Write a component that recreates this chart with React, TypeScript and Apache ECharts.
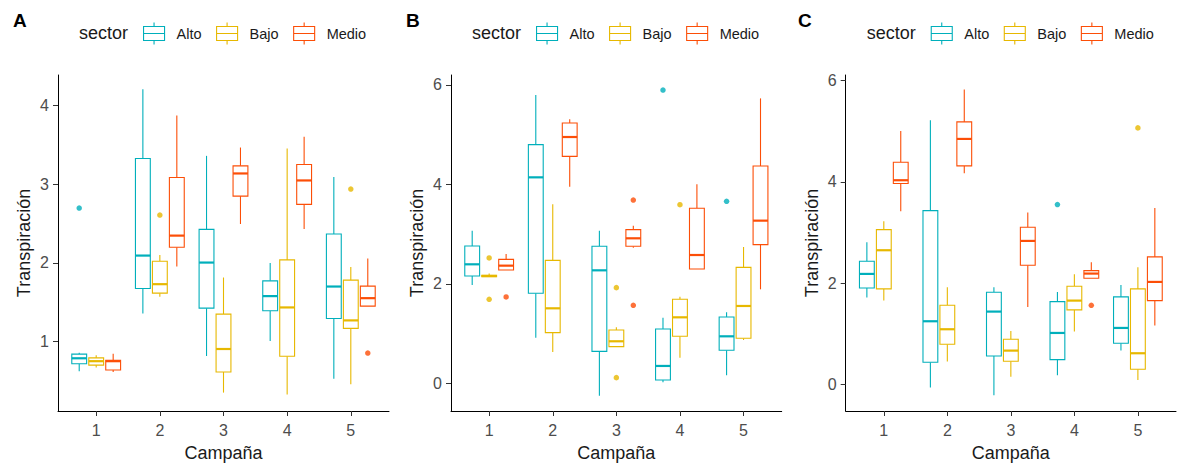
import React, { useEffect, useRef } from "react";
import * as echarts from "echarts";

const campaigns = [1, 2, 3, 4, 5];
const sectors = ["Alto", "Bajo", "Medio"];
const colors = ["#00AFBB", "#E7B800", "#FC4E07"];
const panelLetters = ["A", "B", "C"];

// Each row: [min, Q1, median, Q3, max] for campaigns 1..5
const A_Alto = [
  [0.62, 0.715, 0.785, 0.838, 0.856],
  [1.355, 1.673, 2.092, 3.328, 4.208],
  [0.814, 1.423, 2.003, 2.426, 3.361],
  [1.004, 1.389, 1.576, 1.77, 1.999],
  [0.526, 1.292, 1.698, 2.367, 3.091],
];
const A_Bajo = [
  [0.666, 0.698, 0.748, 0.79, 0.822],
  [1.567, 1.614, 1.728, 2.02, 2.1],
  [0.348, 0.611, 0.903, 1.347, 1.813],
  [0.323, 0.81, 1.432, 2.037, 3.455],
  [0.454, 1.165, 1.267, 1.779, 1.948],
];
const A_Medio = [
  [0.61, 0.636, 0.748, 0.759, 0.842],
  [1.952, 2.198, 2.346, 3.086, 3.873],
  [2.494, 2.849, 3.137, 3.234, 3.467],
  [2.43, 2.744, 3.048, 3.251, 3.603],
  [1.449, 1.449, 1.55, 1.703, 2.054],
];
const B_Alto = [
  [1.977, 2.158, 2.393, 2.761, 3.07],
  [0.918, 1.81, 4.142, 4.799, 5.798],
  [-0.248, 0.643, 2.272, 2.755, 3.07],
  [0.02, 0.067, 0.349, 1.093, 1.32],
  [0.161, 0.664, 0.945, 1.334, 1.428],
];
const B_Bajo = [
  [2.14, 2.145, 2.158, 2.17, 2.21],
  [0.63, 1.019, 1.508, 2.473, 3.599],
  [0.737, 0.737, 0.845, 1.072, 1.126],
  [0.516, 0.945, 1.327, 1.689, 1.743],
  [0.871, 0.905, 1.555, 2.332, 2.741],
];
const B_Medio = [
  [2.279, 2.279, 2.366, 2.493, 2.6],
  [3.954, 4.564, 4.953, 5.234, 5.308],
  [2.728, 2.755, 2.916, 3.09, 3.17],
  [2.299, 2.299, 2.58, 3.519, 4.001],
  [1.89, 2.788, 3.271, 4.37, 5.73],
];
const C_Alto = [
  [1.712, 1.903, 2.18, 2.43, 2.806],
  [-0.066, 0.435, 1.245, 3.431, 5.216],
  [-0.217, 0.56, 1.436, 1.818, 1.917],
  [0.178, 0.487, 1.014, 1.633, 1.824],
  [0.665, 0.81, 1.113, 1.726, 1.963],
];
const C_Bajo = [
  [1.653, 1.884, 2.648, 3.056, 3.221],
  [0.448, 0.79, 1.087, 1.561, 1.917],
  [0.151, 0.454, 0.665, 0.889, 1.054],
  [1.041, 1.469, 1.653, 1.936, 2.173],
  [0.086, 0.296, 0.613, 1.884, 2.312],
];
const C_Medio = [
  [3.418, 3.965, 4.031, 4.386, 5.006],
  [4.169, 4.314, 4.847, 5.183, 5.822],
  [1.528, 2.351, 2.832, 3.102, 3.392],
  [2.094, 2.094, 2.187, 2.246, 2.41],
  [1.159, 1.653, 2.022, 2.516, 3.484],
];

// Outliers: [campaign, value]
const A_Alto_out = [[1, 2.697]];
const A_Bajo_out = [[2, 2.608], [5, 2.938]];
const A_Medio_out = [[5, 0.852]];
const B_Alto_out = [[4, 5.898], [5, 3.66]];
const B_Bajo_out = [[1, 2.52], [1, 1.689], [3, 1.924], [3, 0.114], [4, 3.592]];
const B_Medio_out = [[1, 1.736], [3, 3.686], [3, 1.568]];
const C_Alto_out = [[4, 3.55]];
const C_Bajo_out = [[5, 5.065]];
const C_Medio_out = [[4, 1.561]];

const A_ticks = [1, 2, 3, 4];
const B_ticks = [0, 2, 4, 6];
const C_ticks = [0, 2, 4, 6];
const A_range = [0.114, 4.39];
const B_range = [-0.557, 6.2];
const C_range = [-0.528, 6.11];

const panels = [
  { boxes: [A_Alto, A_Bajo, A_Medio], outs: [A_Alto_out, A_Bajo_out, A_Medio_out], ticks: A_ticks, range: A_range },
  { boxes: [B_Alto, B_Bajo, B_Medio], outs: [B_Alto_out, B_Bajo_out, B_Medio_out], ticks: B_ticks, range: B_range },
  { boxes: [C_Alto, C_Bajo, C_Medio], outs: [C_Alto_out, C_Bajo_out, C_Medio_out], ticks: C_ticks, range: C_range },
];

// Layout
const gridLefts = [58, 451, 845.7];
const gridWidths = [331, 330.7, 330.3];
const GRID_TOP = 75;
const GRID_H = 336.4;
const DODGE = 0.2667;
const BOX_W = 0.2333;
const FONT = "Liberation Sans, Arial, Helvetica, sans-serif";
const ICON = "path://M0 4H21V18H0Z M0 11H21 M10.5 0V4 M10.5 18V22";

export default function App() {
  const ref = useRef<HTMLDivElement>(null);

  useEffect(() => {
    if (!ref.current) return;
    const chart = echarts.init(ref.current, undefined, { renderer: "svg" });

    const grids: any[] = [];
    const xAxes: any[] = [];
    const yAxes: any[] = [];
    const series: any[] = [];
    const legends: any[] = [];
    const graphics: any[] = [];

    panels.forEach((p, pi) => {
      grids.push({ left: gridLefts[pi], top: GRID_TOP, width: gridWidths[pi], height: GRID_H });
      xAxes.push({
        type: "value",
        gridIndex: pi,
        min: 0.4,
        max: 5.6,
        name: "Campaña",
        nameLocation: "middle",
        nameGap: 33,
        nameTextStyle: { fontSize: 18, color: "#1a1a1a", fontFamily: FONT },
        axisLine: { show: true, onZero: false, lineStyle: { color: "#000", width: 1 } },
        axisTick: { show: true, length: 5, customValues: campaigns, lineStyle: { color: "#333", width: 1 } },
        axisLabel: { customValues: campaigns, margin: 11, fontSize: 16, color: "#4d4d4d", fontFamily: FONT },
        splitLine: { show: false },
      });
      yAxes.push({
        type: "value",
        gridIndex: pi,
        min: p.range[0],
        max: p.range[1],
        name: "Transpiración",
        nameLocation: "middle",
        nameGap: 25,
        nameTextStyle: { fontSize: 18, color: "#1a1a1a", fontFamily: FONT },
        axisLine: { show: true, onZero: false, lineStyle: { color: "#000", width: 1 } },
        axisTick: { show: true, length: 5, customValues: p.ticks, lineStyle: { color: "#333", width: 1 } },
        axisLabel: { customValues: p.ticks, margin: 9, fontSize: 16, color: "#4d4d4d", fontFamily: FONT },
        splitLine: { show: false },
      });

      sectors.forEach((s, si) => {
        const offset = (si - 1) * DODGE;
        const color = colors[si];
        series.push({
          type: "custom",
          name: s,
          xAxisIndex: pi,
          yAxisIndex: pi,
          itemStyle: { color },
          data: p.boxes[si].map((r, i) => [campaigns[i], ...r]),
          encode: { x: 0, y: [1, 2, 3, 4, 5] },
          renderItem: (params: any, api: any) => {
            const x = api.value(0) + offset;
            const pMin = api.coord([x, api.value(1)]);
            const pQ1 = api.coord([x, api.value(2)]);
            const pMed = api.coord([x, api.value(3)]);
            const pQ3 = api.coord([x, api.value(4)]);
            const pMax = api.coord([x, api.value(5)]);
            const left = api.coord([x - BOX_W / 2, api.value(3)])[0];
            const right = api.coord([x + BOX_W / 2, api.value(3)])[0];
            return {
              type: "group",
              children: [
                { type: "line", shape: { x1: pMax[0], y1: pMax[1], x2: pQ3[0], y2: pQ3[1] }, style: { stroke: color, lineWidth: 1.1 } },
                { type: "line", shape: { x1: pQ1[0], y1: pQ1[1], x2: pMin[0], y2: pMin[1] }, style: { stroke: color, lineWidth: 1.1 } },
                {
                  type: "rect",
                  shape: { x: left, y: pQ3[1], width: right - left, height: pQ1[1] - pQ3[1] },
                  style: { fill: "#ffffff", stroke: color, lineWidth: 1.1 },
                },
                { type: "line", shape: { x1: left, y1: pMed[1], x2: right, y2: pMed[1] }, style: { stroke: color, lineWidth: 2.2 } },
              ],
            };
          },
        });
        series.push({
          type: "scatter",
          name: s,
          xAxisIndex: pi,
          yAxisIndex: pi,
          symbolSize: 5.5,
          itemStyle: { color },
          data: p.outs[si].map(([c, v]) => [c + offset, v]),
        });
      });

      const shift = gridLefts[pi] - gridLefts[0];
      legends.push({
        left: 143 + shift,
        top: 22,
        orient: "horizontal",
        padding: 0,
        itemWidth: 21,
        itemHeight: 22,
        itemGap: 14.5,
        selectedMode: false,
        textStyle: { fontSize: 14.5, color: "#1a1a1a", fontFamily: FONT, padding: [0, 0, 0, 7] },
        data: sectors.map((s, si) => ({
          name: s,
          icon: ICON,
          itemStyle: { color: "#ffffff", borderColor: colors[si], borderWidth: 1.1 },
        })),
      });
      graphics.push({
        type: "text",
        left: 79 + shift,
        top: 24,
        style: { text: "sector", fontSize: 18, fill: "#1a1a1a", fontFamily: FONT },
      });
    });

    const letterX = [13, 406, 798];
    panelLetters.forEach((l, i) => {
      graphics.push({
        type: "text",
        left: letterX[i],
        top: 11,
        style: { text: l, fontSize: 19, fontWeight: "bold", fill: "#000", fontFamily: FONT },
      });
    });

    chart.setOption({
      animation: false,
      backgroundColor: "#ffffff",
      grid: grids,
      xAxis: xAxes,
      yAxis: yAxes,
      legend: legends,
      series,
      graphic: graphics,
    });

    return () => chart.dispose();
  }, []);

  return <div ref={ref} style={{ position: "fixed", left: 0, top: 0, width: 1184, height: 467 }} />;
}
